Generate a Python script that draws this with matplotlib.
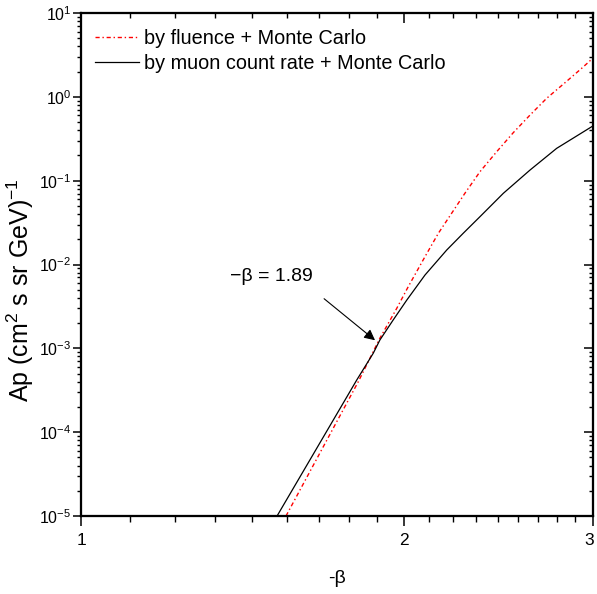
import numpy as np
import matplotlib
matplotlib.use("Agg")
import matplotlib.pyplot as plt
from matplotlib.ticker import FixedLocator, FixedFormatter, LogFormatterSciNotation, NullFormatter
from matplotlib.patches import FancyArrowPatch

plt.rcParams['font.family'] = ['Liberation Sans', 'DejaVu Sans']
plt.rcParams['mathtext.fontset'] = 'custom'
plt.rcParams['mathtext.rm'] = 'Liberation Sans'
plt.rcParams['mathtext.it'] = 'Liberation Sans:italic'
plt.rcParams['mathtext.default'] = 'regular'

# Data
muon_x = [1.523, 1.807, 1.872, 1.899, 1.954, 2.012, 2.092, 2.192, 2.271, 2.354,
          2.475, 2.621, 2.775, 3.0]
muon_y = [1e-5, 4.19e-4, 8.72e-4, 1.257e-3, 2.18e-3, 3.77e-3, 7.49e-3, 0.0149, 0.0236, 0.0372,
          0.0707, 0.134, 0.243, 0.45]

fluence_x = [1.5525, 1.813, 1.899, 1.969, 2.018, 2.092, 2.153, 2.215, 2.279, 2.354,
             2.44, 2.528, 2.621, 2.716, 2.825, 2.928, 3.0]
fluence_y = [1e-5, 4.0e-4, 1.32e-3, 3.0e-3, 5.43e-3, 0.0124, 0.0236, 0.0408, 0.0707, 0.128,
             0.2217, 0.373, 0.607, 0.96, 1.474, 2.189, 2.9]

x_major = [1, 2, 3]
x_labels = ['1', '2', '3']
x_minor = [1 + k / 9 for k in range(1, 9)] + [2 + k / 9 for k in range(1, 9)]
y_exponents = [-5, -4, -3, -2, -1, 0, 1]
y_major = [10.0 ** e for e in y_exponents]
y_minor = [k * 10.0 ** e for e in y_exponents[:-1] for k in range(2, 10)]

fig = plt.figure(figsize=(5.97, 5.94), dpi=100)
ax = fig.add_axes([81 / 597, 1 - 516 / 594, 512 / 597, 503 / 594])

ax.plot(fluence_x, fluence_y, color='red', lw=1.0, linestyle=(0, (3, 2, 1, 2)),
        label='by fluence + Monte Carlo')
ax.plot(muon_x, muon_y, color='black', lw=0.9, label='by muon count rate + Monte Carlo')

ax.set_xscale('log')
ax.set_yscale('log')
ax.set_xlim(1, 3)
ax.set_ylim(1e-5, 10)

# the last label ("3") is drawn separately below so it stays inside the canvas
ax.xaxis.set_major_locator(FixedLocator(x_major))
ax.xaxis.set_major_formatter(FixedFormatter(x_labels[:-1] + ['']))
ax.xaxis.set_minor_locator(FixedLocator(x_minor))
ax.xaxis.set_minor_formatter(NullFormatter())
ax.yaxis.set_major_locator(FixedLocator(y_major))
ax.yaxis.set_major_formatter(LogFormatterSciNotation())
ax.yaxis.set_minor_locator(FixedLocator(y_minor))
ax.yaxis.set_minor_formatter(NullFormatter())

for s in ax.spines.values():
    s.set_linewidth(1.5)

ax.tick_params(axis='x', which='major', direction='out', length=7, width=1.1, labelsize=12.5, pad=5, top=False)
ax.tick_params(axis='x', which='minor', direction='out', length=4.5, width=1.0, top=False)
ax.tick_params(axis='y', which='major', direction='out', length=6, width=1.1, labelsize=11.5, pad=1, right=False)
ax.tick_params(axis='y', which='minor', direction='out', length=3, width=1.0, right=False)

ax.annotate(x_labels[-1], xy=(x_major[-1], 0), xycoords=('data', 'axes fraction'),
            xytext=(-2.5, -12), textcoords='offset points', ha='center', va='top', fontsize=12.5)

# top (inward) ticks
axt = ax.twiny()
axt.set_xscale('log')
axt.set_xlim(1, 3)
axt.xaxis.set_major_locator(FixedLocator(x_major))
axt.xaxis.set_minor_locator(FixedLocator(x_minor))
axt.xaxis.set_major_formatter(NullFormatter())
axt.xaxis.set_minor_formatter(NullFormatter())
axt.tick_params(axis='x', which='major', direction='in', length=7, width=1.1)
axt.tick_params(axis='x', which='minor', direction='in', length=3.5, width=1.0)

# right (inward) ticks
axr = ax.twinx()
axr.set_yscale('log')
axr.set_ylim(1e-5, 10)
axr.yaxis.set_major_locator(FixedLocator(y_major))
axr.yaxis.set_minor_locator(FixedLocator(y_minor))
axr.yaxis.set_major_formatter(NullFormatter())
axr.yaxis.set_minor_formatter(NullFormatter())
axr.tick_params(axis='y', which='major', direction='in', length=6.5, width=1.1)
axr.tick_params(axis='y', which='minor', direction='in', length=3, width=1.0)
for a in (axt, axr):
    for s in a.spines.values():
        s.set_linewidth(1.5)

# hide unused (empty) axis texts
for a in (ax, axt, axr):
    for axis in (a.xaxis, a.yaxis):
        axis.offsetText.set_visible(False)
axt.yaxis.label.set_visible(False)
axr.xaxis.label.set_visible(False)
axt.xaxis.label.set_visible(False)
axr.yaxis.label.set_visible(False)

ax.set_xlabel('-β', fontsize=14, labelpad=16)
ax.set_ylabel('Ap (cm$^2$ s sr GeV)$^{-1}$', fontsize=18)
ax.yaxis.set_label_coords(-0.087, 0.45)

leg = ax.legend(loc='upper left', bbox_to_anchor=(0.0, 0.995), frameon=False, fontsize=14.3,
                handlelength=2.2, handletextpad=0.25, labelspacing=0.3, borderaxespad=0.3)

arrow = FancyArrowPatch((1.677, 4.1e-3), (1.888, 1.19e-3), arrowstyle='-|>', color='black',
                        lw=0.8, mutation_scale=16, transform=ax.transData)
ax.add_patch(arrow)
ax.text(1.503, 7.1e-3, '\u2212β = 1.89', fontsize=14, ha='center', va='center')

fig.savefig('out.png', dpi=100)
